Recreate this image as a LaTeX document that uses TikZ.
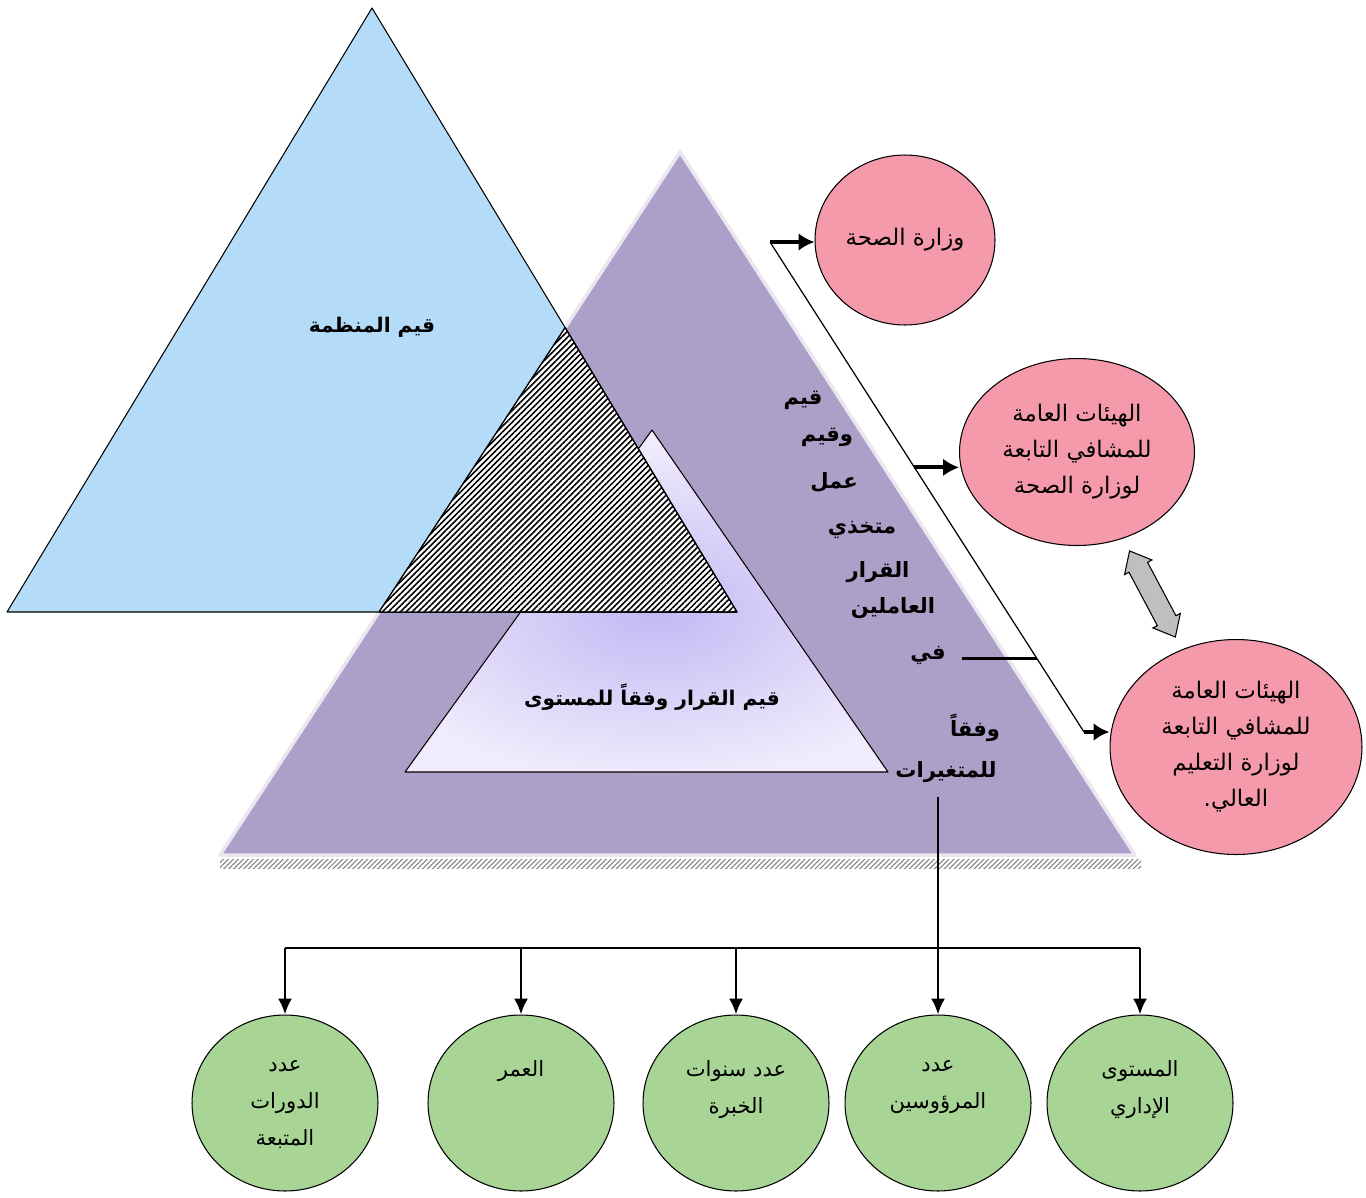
\documentclass[tikz,border=0pt]{standalone}
\usepackage{fontspec}
\newfontfamily\arabicfont[Script=Arabic]{DejaVu Sans}
\TeXXeTstate=1
\usetikzlibrary{calc,shapes.geometric,shapes.arrows,arrows.meta,patterns.meta}
\definecolor{skyfill}{HTML}{B4DCF8}
\definecolor{lilac}{HTML}{ADA0C8}
\definecolor{rosefill}{HTML}{F59AAB}
\definecolor{leaf}{HTML}{A8D496}
\definecolor{mist}{HTML}{F0ECFC}
\definecolor{glow}{HTML}{C4B8F4}
\newcommand\artext[1]{\beginR#1\endR}
\newcommand\DrawLeaf[3]{
  \node[leafball] (#1) at (#2,1103) {};
  \node[leaftext] (#1t) at (#2,1060) {#3};
}

\begin{document}
\begin{tikzpicture}[x=0.02cm,y=-0.02cm,
  outline/.style={draw=black,line width=0.6pt,line join=round},
  title/.style={font=\arabicfont\bfseries\fontsize{11.5}{14}\selectfont,inner sep=1pt},
  word/.style={font=\arabicfont\bfseries\fontsize{12}{14}\selectfont,inner sep=1pt},
  rose/.style={ellipse,draw=black,line width=0.6pt,fill=rosefill,inner sep=0pt,align=center,
    font=\arabicfont\fontsize{13}{20.5}\selectfont},
  leafball/.style={ellipse,draw=black,line width=0.6pt,fill=leaf,minimum width=3.72cm,minimum height=3.52cm},
  leaftext/.style={anchor=north,align=center,inner sep=0pt,font=\arabicfont\fontsize{12}{21}\selectfont},
  fat/.style={line width=2.2pt,-{Latex[length=9pt,width=10pt]}},
  drop/.style={line width=1.5pt,-{Latex[length=9pt,width=8pt]}},
  slim/.style={line width=0.7pt},
  twoway/.style={double arrow,draw=black,line width=0.6pt,fill=gray!50,inner xsep=0pt,inner ysep=0.2cm,
    minimum height=1.95cm,double arrow head extend=0.1cm,double arrow tip angle=80}]
\useasboundingbox (0,0) rectangle (1366,1197);
\coordinate (Bt) at (372,8);
\coordinate (Bl) at (7,612);
\coordinate (Br) at (737,612);
\coordinate (Pt) at (680,152);
\coordinate (Pl) at (220,855);
\coordinate (Pr) at (1135,855);
\coordinate (It) at (652,430);
\coordinate (Il) at (405,772);
\coordinate (Ir) at (888,772);

\fill[pattern={Lines[angle=45,distance=2pt,line width=0.6pt]},pattern color=gray]
  ($(Pl)+(0,4)$) rectangle ($(Pr)+(6,13)$);
\filldraw[fill=lilac,draw=lilac!25,line width=2pt,line join=round] (Pt) -- (Pl) -- (Pr) -- cycle;
\fill[mist] (It) -- (Il) -- (Ir) -- cycle;
\begin{scope}
  \clip (It) -- (Il) -- (Ir) -- cycle;
  \shade[inner color=glow,outer color=mist] (655,612) ellipse [x radius=300,y radius=170];
\end{scope}
\draw[outline] (It) -- (Il) -- (Ir) -- cycle;
\filldraw[fill=skyfill,outline] (Bt) -- (Bl) -- (Br) -- cycle;
\coordinate (Hx) at (intersection of Pt--Pl and Bt--Br);
\coordinate (Hl) at (intersection of Pt--Pl and Bl--Br);
\filldraw[fill=white,outline] (Hx) -- (Hl) -- (Br) -- cycle;
\fill[pattern={Lines[angle=45,distance=2.4pt,line width=0.9pt]}] (Hx) -- (Hl) -- (Br) -- cycle;
\draw[outline] (Hx) -- (Hl) -- (Br) -- cycle;

\node[title] (org) at (372,327) {\artext{قيم المنظمة}};
\node[title] (lvl) at (652,697) {\artext{قيم القرار وفقاً للمستوى}};
\foreach \n/\x/\y/\t in {w1/803/400/قيم,w2/827/437/وقيم,w3/834/482/عمل,w4/862/530/متخذي,
  w5/878/572/القرار,w6/893/608/العاملين,w7/928/655/في,w8/975/728/وفقاً,w9/946/772/للمتغيرات}
  \node[word] (\n) at (\x,\y) {\artext{\t}};

\coordinate (top) at (770,242);
\coordinate (bot) at (1084,732);
\draw[slim] (top) -- (bot);
\node[rose,minimum width=3.6cm,minimum height=3.4cm] (c1) at (905,240) {\artext{وزارة الصحة}};
\node[rose,minimum width=4.7cm,minimum height=3.74cm] (c2) at (1077,452)
  {\artext{الهيئات العامة}\\\artext{للمشافي التابعة}\\\artext{لوزارة الصحة}};
\node[rose,minimum width=5.04cm,minimum height=4.3cm] (c3) at (1236,747)
  {\artext{الهيئات العامة}\\\artext{للمشافي التابعة}\\\artext{لوزارة التعليم}\\\artext{العالي.}};
\draw[fat] (top) -- (top -| c1.west);
\coordinate (mid) at ($(top)!0.46!(bot)$);
\draw[fat] (mid) -- (mid -| c2.west);
\draw[fat] (bot) -- (bot -| c3.west);
\coordinate (fi) at ($(top)!0.85!(bot)$);
\draw[line width=1.2pt] ($(w7.east |- fi)+(14,0)$) -- (fi);
\path (c2.-62) -- node[twoway,sloped] (swap) {} (c3.119);

\DrawLeaf{g1}{285}{\artext{عدد}\\\artext{الدورات}\\\artext{المتبعة}}
\DrawLeaf{g2}{521}{\artext{العمر}}
\DrawLeaf{g3}{736}{\artext{عدد سنوات}\\\artext{الخبرة}}
\DrawLeaf{g4}{938}{\artext{عدد}\\\artext{المرؤوسين}}
\DrawLeaf{g5}{1140}{\artext{المستوى}\\\artext{الإداري}}
\coordinate (bar) at (0,948);
\draw[line width=1.2pt] (g1.north |- bar) -- (g5.north |- bar);
\foreach \g in {g1,g2,g3,g5}
  \draw[drop] (\g.north |- bar) -- (\g.north);
\draw[drop] ($(w9.south -| g4.north)+(0,12)$) -- (g4.north);
\end{tikzpicture}
\end{document}
